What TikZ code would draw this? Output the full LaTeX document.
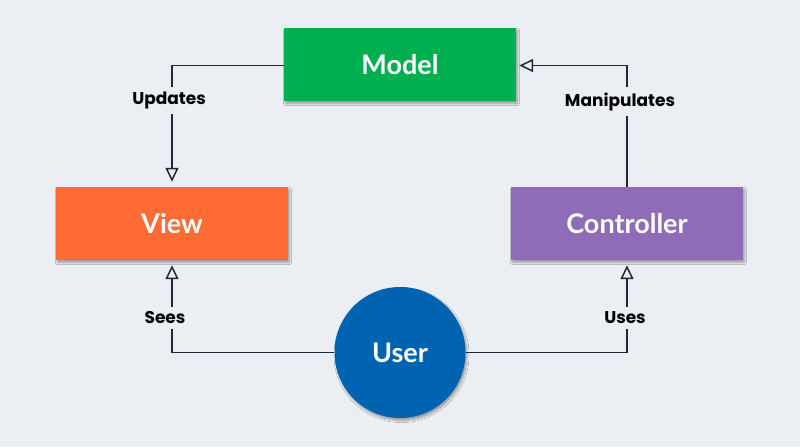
\documentclass[tikz,border=0pt]{standalone}
\usepackage{fontspec}
\setmainfont{Lato}
\newfontfamily\labelfont{Poppins}
\usetikzlibrary{shadows.blur,arrows.meta}
\definecolor{bgc}{HTML}{EBEEF2}
\definecolor{modelc}{HTML}{00B050}
\definecolor{viewc}{HTML}{FF6B35}
\definecolor{ctrlc}{HTML}{8E6CB8}
\definecolor{userc}{HTML}{0063B1}
\definecolor{linec}{HTML}{1E2B36}
\tikzset{
  boxnode/.style={rectangle, minimum width=232pt, minimum height=73pt, inner sep=0pt,
    text=white, font=\bfseries\fontsize{27}{30}\selectfont,
    blur shadow={shadow xshift=1.5pt, shadow yshift=-2.5pt, shadow blur steps=6, shadow opacity=35}},
  usernode/.style={circle, minimum size=131pt, inner sep=0pt, fill=userc,
    text=white, font=\bfseries\fontsize{27}{30}\selectfont,
    blur shadow={shadow xshift=1.5pt, shadow yshift=-2.5pt, shadow blur steps=6, shadow opacity=35}},
  conn/.style={draw=linec, line width=1.7pt},
  arr/.style={conn, -{Triangle[open, length=14pt, width=13pt, line width=1.5pt]}, shorten >=5pt},
  lbl/.style={fill=bgc, inner xsep=2pt, inner ysep=5pt, text=black,
    font=\labelfont\bfseries\fontsize{17}{19}\selectfont}
}
\begin{document}
\begin{tikzpicture}[x=1pt, y=-1pt]
\fill[bgc] (0,0) rectangle (800,447);
\useasboundingbox (0,0) rectangle (800,447);
\node[boxnode, fill=modelc] (model) at (400,64.5) {Model};
\node[boxnode, fill=viewc] (view) at (172,223.5) {View};
\node[boxnode, fill=ctrlc] (ctrl) at (627,223.5) {Controller};
\node[usernode] (user) at (400,352.5) {User};
\coordinate (mv) at (172,65.5);
\coordinate (mc) at (627,65.5);
\coordinate (us) at (172,352.5);
\coordinate (uu) at (627,352.5);
\draw[arr] (model.west |- mv) -- (mv) -- (view.north);
\draw[arr, shorten >=3pt] (ctrl.north) -- (mc) -- (model.east |- mc);
\draw[arr] (user.west) -- (us) -- (view.south);
\draw[arr] (user.east) -- (uu) -- (ctrl.south);
\node[lbl] (lup) at (169,100.5) {Updates};
\node[lbl] (lman) at (620,101.5) {Manipulates};
\node[lbl] (lsee) at (165,318) {Sees};
\node[lbl] (luse) at (625,318) {Uses};
\end{tikzpicture}
\end{document}
